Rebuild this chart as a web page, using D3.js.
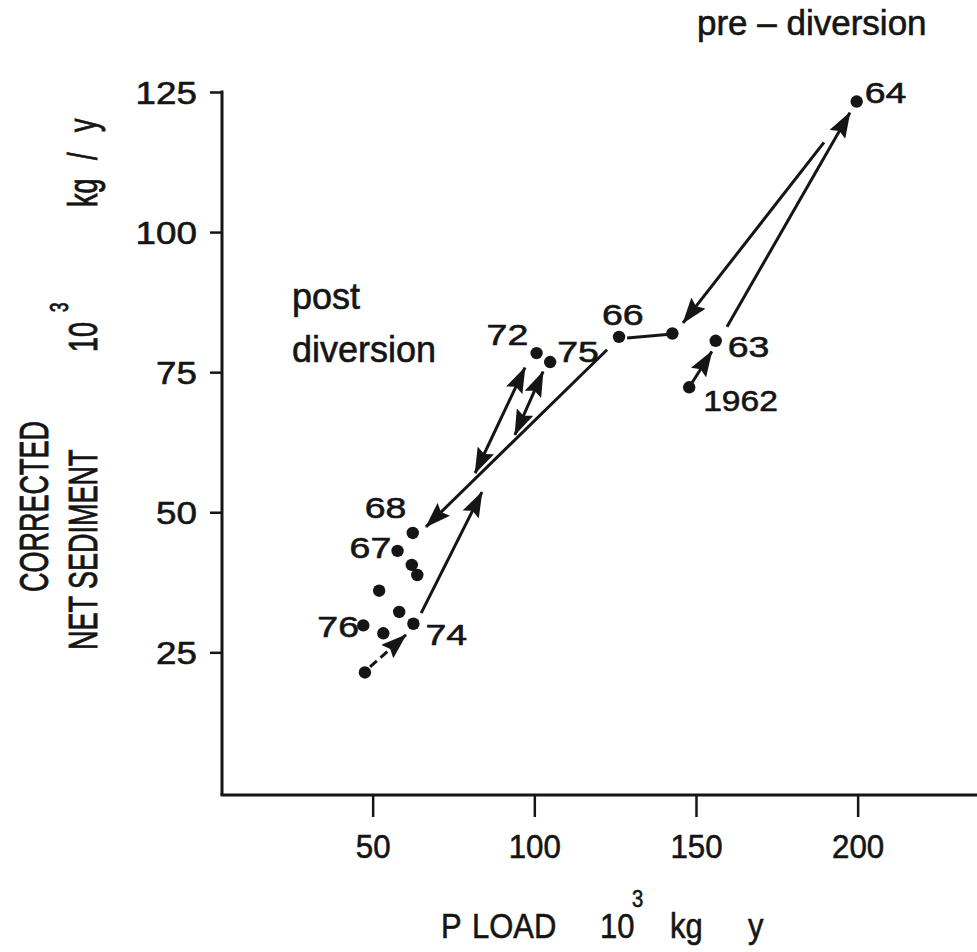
<!DOCTYPE html>
<html><head><meta charset="utf-8">
<script src="https://cdn.jsdelivr.net/npm/d3@7"></script>
<style>
body{margin:0;background:#fff}
svg text{font-family:"Liberation Sans",Arial,Helvetica,sans-serif;fill:#151515;stroke:#151515;stroke-width:0.6px}
</style></head>
<body><svg id="chart" width="977" height="952"></svg>
<script>
// ---- data ----
const pointLabels = ["1962","63","64","","66","72","75","68","67","","","","","76","","74",""];
const pointX = [147.9,156.1,199.7,142.7,126.2,100.7,104.9,62.4,57.7,62.1,63.8,52.0,58.2,47.1,53.3,62.6,47.6];
const pointY = [72.3,80.6,123.3,81.9,81.3,78.4,76.8,46.3,43.1,40.6,38.8,36.0,32.2,29.8,28.4,30.1,21.4];
// arrows between years (data units): start x,y -> end x,y and kind of heads
const arrowX1 = [147.9,159.6,189.6,128.7,122.5,65.0,81.7,94.0,49.2];
const arrowY1 = [72.3,83.1,116.0,81.1,79.0,32.0,57.0,63.8,22.4];
const arrowX2 = [154.9,197.6,146.0,141.0,66.5,83.8,97.1,102.7,60.3];
const arrowY2 = [78.7,121.3,83.8,81.7,47.4,53.6,75.8,75.1,28.1];
const arrowHeads = ["end","end","end","none","end","end","both","both","end-dashed"];
const xTicks = [50,100,150,200];
const yTicks = [25,50,75,100,125];

// ---- layout ----
const svg = d3.select("#chart");
const x = d3.scaleLinear().domain([0,250]).range([211,1019.3]);
const y = d3.scaleLinear().domain([-1,125]).range([798,92]);
const axisX = 222, axisY = 795;
const ink = "#151515";

// label offsets (pixels from the dot)
const labelOffsets = {"1962":[14,24],"63":[12,16],"64":[8,1],"66":[-17,-12],"72":[-50,-8],
  "75":[7,0],"68":[-48,-15],"67":[-48,7],"76":[-46,12],"74":[12,21]};

const defs = svg.append("defs");
defs.append("marker").attr("id","head").attr("viewBox","0 0 26 18")
  .attr("markerUnits","userSpaceOnUse").attr("markerWidth",26).attr("markerHeight",18)
  .attr("refX",25).attr("refY",9).attr("orient","auto-start-reverse")
  .append("path").attr("d","M0,0 L26,9 L0,18 L4,9 Z").attr("fill",ink);

// y axis
const yAxis = d3.axisLeft(y).tickValues(yTicks).tickSize(12).tickPadding(0);
const gy = svg.append("g").attr("transform",`translate(${axisX},0)`).call(yAxis);
gy.select(".domain").remove();
gy.selectAll(".tick line").attr("stroke",ink).attr("stroke-width",2.5);
gy.selectAll(".tick text").attr("x",null).attr("dy",null)
  .attr("transform","translate(-25,11) scale(1.15,1)")
  .attr("text-anchor","end").style("font-size","32px").attr("fill",ink);
svg.append("line").attr("x1",axisX).attr("x2",axisX).attr("y1",y(125)-1.5).attr("y2",axisY)
  .attr("stroke",ink).attr("stroke-width",3);

// x axis
const xAxis = d3.axisBottom(x).tickValues(xTicks).tickSize(22).tickPadding(0);
const gx = svg.append("g").attr("transform",`translate(0,${axisY})`).call(xAxis);
gx.select(".domain").remove();
gx.selectAll(".tick line").attr("stroke",ink).attr("stroke-width",2.5);
gx.selectAll(".tick text").attr("y",null).attr("dy",null)
  .attr("transform","translate(0,63) scale(0.92,1)")
  .attr("text-anchor","middle").style("font-size","34px").attr("fill",ink);
svg.append("line").attr("x1",axisX-1.5).attr("x2",977).attr("y1",axisY).attr("y2",axisY)
  .attr("stroke",ink).attr("stroke-width",3);

// arrows
arrowHeads.forEach((h,i)=>{
  const l = svg.append("line")
    .attr("x1",x(arrowX1[i])).attr("y1",y(arrowY1[i]))
    .attr("x2",x(arrowX2[i])).attr("y2",y(arrowY2[i]))
    .attr("stroke",ink).attr("stroke-width",3);
  if (h!=="none") l.attr("marker-end","url(#head)");
  if (h==="both") l.attr("marker-start","url(#head)");
  if (h==="end-dashed") l.attr("stroke-dasharray","9,5");
});

// dots
svg.append("g").selectAll("circle").data(pointX).join("circle")
  .attr("cx",(d,i)=>x(pointX[i])).attr("cy",(d,i)=>y(pointY[i]))
  .attr("r",6.2).attr("fill",ink);

// year labels
pointLabels.forEach((lab,i)=>{
  if(!lab) return;
  const o = labelOffsets[lab];
  svg.append("text")
    .attr("transform",`translate(${x(pointX[i])+o[0]},${y(pointY[i])+o[1]}) scale(${lab.length>2?1.12:1.25},1)`)
    .style("font-size","30px").text(lab);
});

// annotations
svg.append("text").attr("x",697).attr("y",35).style("font-size","35px").text("pre – diversion");
svg.append("text").attr("x",292).attr("y",309).style("font-size","36px").text("post");
svg.append("text").attr("x",292).attr("y",362).style("font-size","36px").text("diversion");

// x title
[["P",441],["LOAD",472],["10",600],["kg",670],["y",748]].forEach(([t,px])=>{
  svg.append("text").attr("transform",`translate(${px},938) scale(0.86,1)`).style("font-size","36px").text(t);
});
svg.append("text").attr("transform","translate(632,907) scale(0.88,1)").style("font-size","23px").text("3");

// y title (rotated)
function rot(txt, bx, by, size){
  svg.append("text").attr("transform",`translate(${bx},${by}) scale(1.5,1) rotate(-90)`)
    .style("font-size",size+"px").text(txt);
}
rot("CORRECTED",48,592,27);
rot("NET SEDIMENT",97,650,27);
rot("10",97,352,27);
rot("3",68,312,17);
rot("kg",97,207,27);
rot("/",97,160,27);
rot("y",97,132,27);
</script></body></html>
